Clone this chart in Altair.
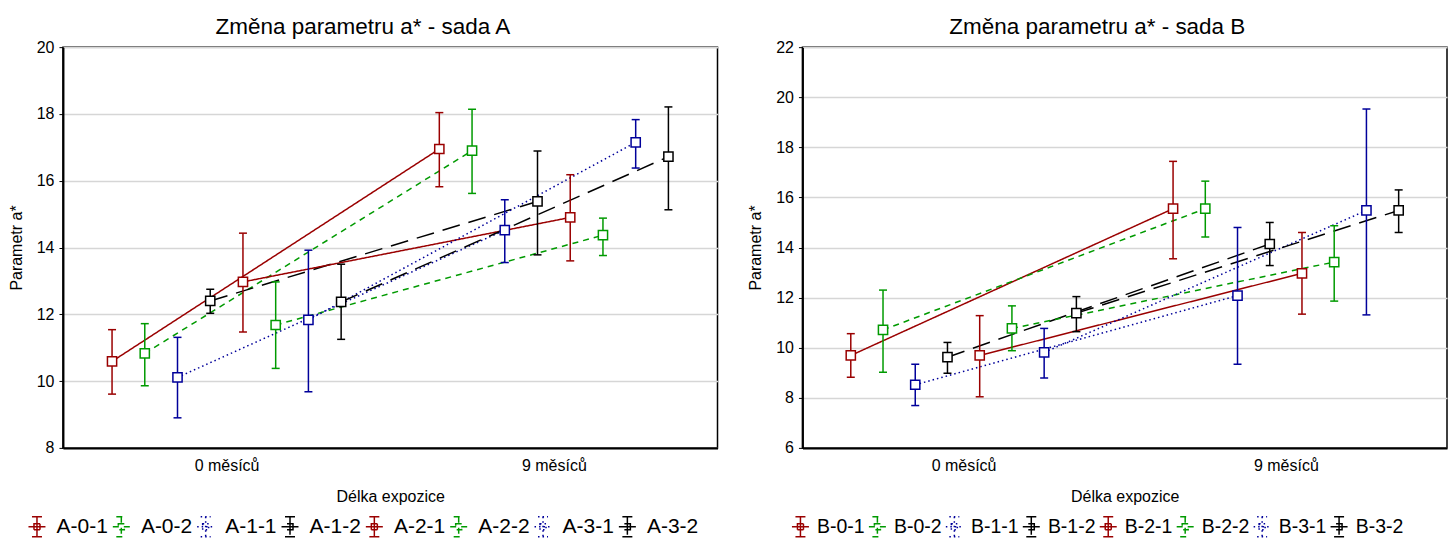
import altair as alt
import pandas as pd

FONT = "Liberation Sans"

series_A = ["A-0-1", "A-0-2", "A-1-1", "A-1-2", "A-2-1", "A-2-2", "A-3-1", "A-3-2"]
series_B = ["B-0-1", "B-0-2", "B-1-1", "B-1-2", "B-2-1", "B-2-2", "B-3-1", "B-3-2"]
time_labels = ["0 měsíců", "9 měsíců"]

# Panel A: means and interval bounds at 0 and 9 months
A_mean_0 = [10.59, 10.83, 10.11, 12.40, 12.97, 11.68, 11.83, 12.37]
A_lo_0 = [9.61, 9.86, 8.90, 12.03, 11.47, 10.38, 9.68, 11.25]
A_hi_0 = [11.54, 11.72, 11.31, 12.75, 14.43, 12.97, 13.92, 13.50]
A_mean_9 = [16.95, 16.90, 14.52, 15.38, 14.90, 14.37, 17.15, 16.72]
A_lo_9 = [15.82, 15.62, 13.55, 13.78, 13.60, 13.76, 16.38, 15.13]
A_hi_9 = [18.04, 18.14, 15.43, 16.89, 16.18, 14.88, 17.83, 18.21]

# Panel B
B_mean_0 = [9.69, 10.71, 8.52, 9.62, 9.69, 10.77, 9.81, 11.38]
B_lo_0 = [8.82, 9.02, 7.69, 8.98, 8.04, 9.88, 8.79, 10.64]
B_hi_0 = [10.56, 12.30, 9.34, 10.21, 11.28, 11.67, 10.77, 12.04]
B_mean_9 = [15.55, 15.55, 12.08, 14.14, 12.97, 13.42, 15.48, 15.48]
B_lo_9 = [13.55, 14.42, 9.34, 13.28, 11.34, 11.86, 11.31, 14.60]
B_hi_9 = [17.44, 16.65, 14.80, 15.00, 14.60, 14.87, 19.53, 16.30]

# series offset within each time category
offsets = [-0.35, -0.25, -0.15, -0.05, 0.05, 0.15, 0.25, 0.35]

colors = ["#9a0000", "#009a00", "#00009a", "#000000",
          "#9a0000", "#009a00", "#00009a", "#000000"]
dashes = [[1, 0], [6, 5], [1.5, 3], [18, 9],
          [1, 0], [6, 5], [1.5, 3], [18, 9]]

LEGEND_PATH = ("M-0.85,0H0.85M0,-1V1M-0.5,-1H0.5M-0.5,1H0.5"
               "M-0.3,-0.3H0.3V0.3H-0.3Z")
CAP_PATH = "M-1,0H1"


def make_df(series, m0, l0, h0, m9, l9, h9):
    rows = []
    for i, s in enumerate(series):
        for t, (m, l, h) in enumerate([(m0[i], l0[i], h0[i]), (m9[i], l9[i], h9[i])]):
            rows.append({"series": s, "style": s, "x": t + offsets[i],
                         "mean": m, "lo": l, "hi": h})
    return pd.DataFrame(rows)


def panel(df, series, title, ydom, ystep, legend_x, lab_size, lab_off, col_pad):
    xenc = alt.X("x:Q", scale=alt.Scale(domain=[-0.5, 1.5], nice=False, zero=False),
                 axis=alt.Axis(values=[0, 1], grid=False, ticks=False,
                               labelExpr="datum.value == 0 ? '0 měsíců' : '9 měsíců'",
                               labelFontSize=16, labelPadding=10, labelColor="black",
                               title="Délka expozice", titleFontSize=16,
                               titleFontWeight="normal", titlePadding=15,
                               domainColor="black", domainWidth=2))
    yscale = alt.Scale(domain=ydom, nice=False, zero=False)
    yaxis = alt.Axis(values=list(range(ydom[0], ydom[1] + 1, ystep)), grid=True,
                     gridColor="#d6d6d6", gridWidth=1.5, tickSize=4, tickColor="black",
                     labelFontSize=16, labelPadding=5, labelColor="black",
                     title="Parametr a*", titleFontSize=16, titleFontWeight="normal",
                     titlePadding=12, domainColor="black", domainWidth=2)
    cscale = alt.Scale(domain=series, range=colors)
    dscale = alt.Scale(domain=series, range=dashes)

    base = alt.Chart(df)
    lines = base.mark_line(strokeWidth=1.5).encode(
        x=xenc,
        y=alt.Y("mean:Q", scale=yscale, axis=yaxis),
        color=alt.Color("series:N", scale=cscale),
        strokeDash=alt.StrokeDash("style:N", scale=dscale, legend=None),
    )
    rules = base.mark_rule(strokeWidth=1.5).encode(
        x="x:Q", y="lo:Q", y2="hi:Q",
        color=alt.Color("series:N", scale=cscale),
    )
    cap_lo = base.mark_point(shape=CAP_PATH, size=64, strokeWidth=1.5, opacity=1).encode(
        x="x:Q", y="lo:Q", color=alt.Color("series:N", scale=cscale))
    cap_hi = base.mark_point(shape=CAP_PATH, size=64, strokeWidth=1.5, opacity=1).encode(
        x="x:Q", y="hi:Q", color=alt.Color("series:N", scale=cscale))
    squares = base.mark_point(shape="square", filled=False, size=85, strokeWidth=1.5,
                              opacity=1, fill="white").encode(
        x="x:Q", y="mean:Q",
        color=alt.Color("series:N", scale=cscale,
                        legend=alt.Legend(orient="none", direction="horizontal",
                                          columns=8, title=None,
                                          legendX=legend_x, legendY=469,
                                          symbolType=LEGEND_PATH, symbolSize=400,
                                          symbolStrokeWidth=1.5,
                                          symbolFillColor="transparent",
                                          symbolDash=[1, 0],
                                          labelFontSize=lab_size, labelColor="black",
                                          labelOffset=lab_off, columnPadding=col_pad,
                                          labelFont=FONT)),
    )
    return alt.layer(lines, rules, cap_lo, cap_hi, squares).properties(
        title=alt.Title(title, fontSize=22.5, fontWeight="normal", font=FONT,
                        color="black", offset=1, frame="bounds"),
    )


dfA = make_df(series_A, A_mean_0, A_lo_0, A_hi_0, A_mean_9, A_lo_9, A_hi_9)
dfB = make_df(series_B, B_mean_0, B_lo_0, B_hi_0, B_mean_9, B_lo_9, B_hi_9)

pA = panel(dfA, series_A, "Změna parametru a* - sada A", [8, 20], 2, -37,
           21, 8.6, 1.4).properties(width=655, height=401)
pB = panel(dfB, series_B, "Změna parametru a* - sada B", [6, 22], 2, -13,
           19.5, 5.6, 0).properties(width=645, height=401)

chart = alt.hconcat(pA, pB, spacing=28).resolve_scale(
    color="independent", y="independent", strokeDash="independent", x="independent"
).resolve_legend(color="independent").properties(
    padding={"left": 7, "top": 14, "right": 0, "bottom": 0}
).configure(font=FONT).configure_view(
    stroke="black", strokeWidth=1.5
).configure_axis(labelFont=FONT, titleFont=FONT)

chart.save("out.html", embed_options={"renderer": "svg", "actions": False})
